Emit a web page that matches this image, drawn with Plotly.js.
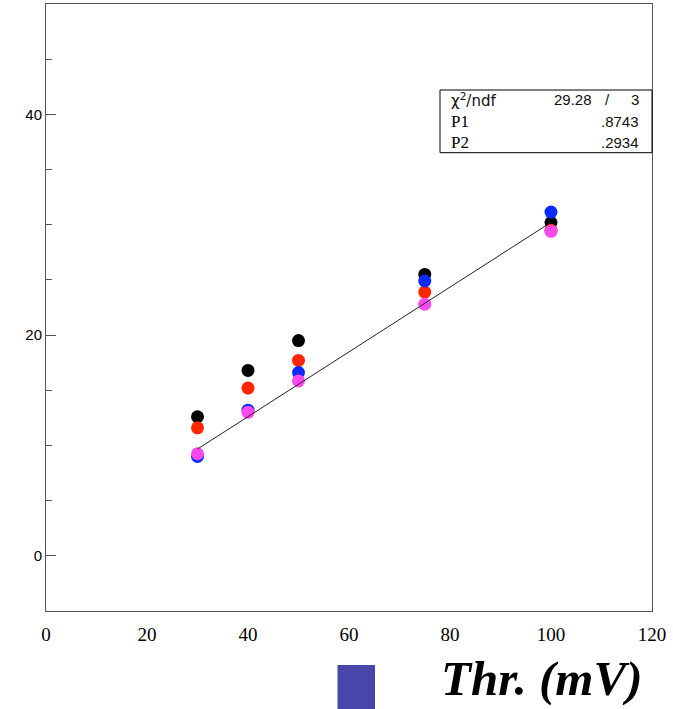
<!DOCTYPE html>
<html>
<head>
<meta charset="utf-8">
<script src="https://cdn.plot.ly/plotly-3.0.1.min.js"></script>
<style>
  html, body { margin: 0; padding: 0; background: #fff; }
  #plot { width: 673px; height: 709px; }
</style>
</head>
<body>
<div id="plot"></div>
<script>
// Threshold settings (mV)
const thresholds = [30, 40, 50, 75, 100];

// Measured values for each series at the thresholds
const seriesBlack   = [12.6, 16.8, 19.5, 25.5, 30.2];
const seriesRed     = [11.6, 15.2, 17.7, 23.9, 29.5];
const seriesBlue    = [9.0, 13.2, 16.6, 24.9, 31.15];
const seriesMagenta = [9.25, 13.0, 15.85, 22.8, 29.4];

// Linear fit y = P1 + P2 * x, drawn over the fitted threshold span
const fitChi2 = 29.28;
const fitNdf = 3;
const fitP1 = 0.8743;
const fitP2 = 0.2934;
const fitRange = [30, 100];

// Axis tick labels
const xTicks = [0, 20, 40, 60, 80, 100, 120];
const yTicks = [0, 20, 40];

const fitX = fitRange.slice();
const fitY = fitX.map(x => fitP1 + fitP2 * x);

function dots(y, color) {
  return {
    x: thresholds, y: y, type: 'scatter', mode: 'markers',
    marker: { color: color, size: 13, line: { width: 0 } },
    hoverinfo: 'skip', showlegend: false
  };
}

const traces = [
  dots(seriesBlack, '#000000'),
  dots(seriesRed, '#ff2600'),
  dots(seriesBlue, '#0a2aff'),
  dots(seriesMagenta, '#ff48f0'),
  {
    x: fitX, y: fitY, type: 'scatter', mode: 'lines',
    line: { color: '#222', width: 1 },
    hoverinfo: 'skip', showlegend: false
  }
];

// Plot area in pixels: left 46, right 652, top 4, bottom 611
const L = 46, R = 652, T = 4, B = 611;
const px = v => (v - L) / (R - L);
const py = v => (B - v) / (B - T);

const statFont = { family: 'Liberation Sans, Arial, sans-serif', size: 15, color: '#111' };
const chiFont = { family: 'DejaVu Sans, Liberation Sans, sans-serif', size: 15, color: '#111' };
const parFont = { family: 'Liberation Serif, Times New Roman, serif', size: 17, color: '#000' };

function note(text, x, y, anchor, font) {
  return {
    text: text, xref: 'paper', yref: 'paper', x: x, y: y,
    xanchor: anchor, yanchor: 'middle', showarrow: false, font: font
  };
}

const layout = {
  width: 673, height: 709,
  margin: { l: L, r: 673 - R, t: T, b: 709 - B },
  paper_bgcolor: '#fff', plot_bgcolor: '#fff',
  showlegend: false,
  xaxis: {
    range: [0, 120], tickmode: 'array', tickvals: xTicks, ticktext: xTicks.map(String),
    ticks: '', showgrid: false, zeroline: false,
    showline: true, mirror: true, linecolor: '#555', linewidth: 1,
    tickfont: { family: 'Liberation Serif, Times New Roman, serif', size: 19, color: '#000' },
    ticklabelstandoff: 6
  },
  yaxis: {
    range: [-5, 50], tickmode: 'array', tickvals: yTicks, ticktext: yTicks.map(String),
    ticks: 'inside', ticklen: 10, tickcolor: '#555', tickwidth: 1,
    minor: { dtick: 5, tick0: 0, ticks: 'inside', ticklen: 6, tickcolor: '#555', tickwidth: 1, showgrid: false },
    showgrid: false, zeroline: false,
    showline: true, mirror: true, linecolor: '#555', linewidth: 1,
    tickfont: { family: 'Liberation Sans, Arial, sans-serif', size: 15, color: '#000' }
  },
  shapes: [
    // fit statistics box
    { type: 'rect', xref: 'paper', yref: 'paper',
      x0: px(440), x1: 1, y0: py(152.7), y1: py(90),
      line: { color: '#000', width: 1 }, fillcolor: '#fff', layer: 'above' },
    // square marker beside the axis caption
    { type: 'rect', xref: 'paper', yref: 'paper',
      x0: px(337.5), x1: px(375), y0: py(665), y1: py(712),
      line: { width: 0 }, fillcolor: '#4747a9' }
  ],
  annotations: [
    note('χ<sup>2</sup>/ndf', px(449), py(100), 'left', chiFont),
    note(fitChi2.toFixed(2), px(594), py(100), 'right', statFont),
    note('/', px(607), py(100), 'center', statFont),
    note(String(fitNdf), px(641), py(100), 'right', statFont),
    note('P1', px(449), py(121.5), 'left', parFont),
    note(fitP1.toFixed(4).replace(/^0/, ''), px(641), py(121.5), 'right', statFont),
    note('P2', px(449), py(143), 'left', parFont),
    note(fitP2.toFixed(4).replace(/^0/, ''), px(641), py(143), 'right', statFont),
    {
      text: '<b><i>Thr. (mV)</i></b>', xref: 'paper', yref: 'paper',
      x: px(541), y: py(678), xanchor: 'center', yanchor: 'middle', showarrow: false,
      font: { family: 'Liberation Serif, Times New Roman, serif', size: 49, color: '#000' }
    }
  ]
};

Plotly.newPlot('plot', traces, layout, { staticPlot: true, displayModeBar: false });
</script>
</body>
</html>
